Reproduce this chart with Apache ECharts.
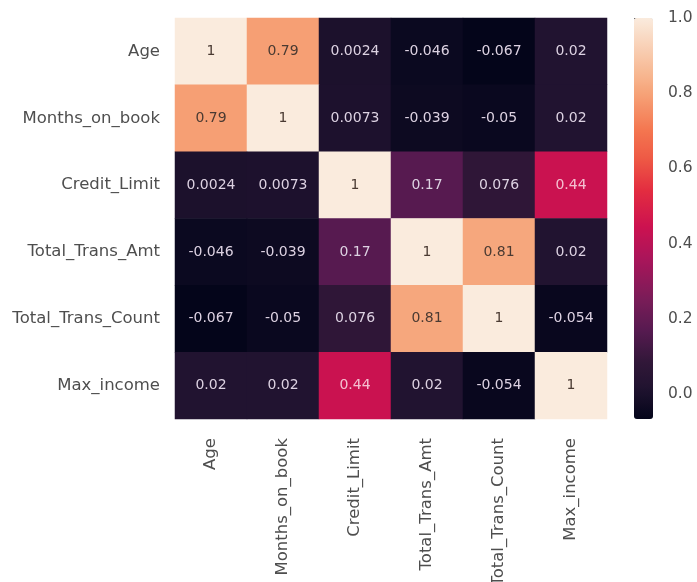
<!DOCTYPE html>
<html>
<head>
<meta charset="utf-8">
<script src="https://cdn.jsdelivr.net/npm/echarts@6/dist/echarts.min.js"></script>
<style>
  html, body { margin: 0; padding: 0; background: #ffffff; }
  #chart { width: 697px; height: 582px; }
</style>
</head>
<body>
<div id="chart"></div>
<script>
// Correlation matrix of the credit-card customer features
const features = ['Age', 'Months_on_book', 'Credit_Limit', 'Total_Trans_Amt', 'Total_Trans_Count', 'Max_income'];

const rowAge            = [1,      0.79,   0.0024, -0.046, -0.067, 0.02];
const rowMonthsOnBook   = [0.79,   1,      0.0073, -0.039, -0.05,  0.02];
const rowCreditLimit    = [0.0024, 0.0073, 1,      0.17,   0.076,  0.44];
const rowTotalTransAmt  = [-0.046, -0.039, 0.17,   1,      0.81,   0.02];
const rowTotalTransCnt  = [-0.067, -0.05,  0.076,  0.81,   1,      -0.054];
const rowMaxIncome      = [0.02,   0.02,   0.44,   0.02,   -0.054, 1];

const matrixRows = [rowAge, rowMonthsOnBook, rowCreditLimit, rowTotalTransAmt, rowTotalTransCnt, rowMaxIncome];

const colorbarTicks = [0, 0.2, 0.4, 0.6, 0.8, 1.0];
const colorMin = -0.067;
const colorMax = 1;

// "rocket"-style ramp: [position, colour] stops
const rampStops = [
  [0.00, '#04051a'],
  [0.08, '#211330'],
  [0.14, '#301738'],
  [0.22, '#561a50'],
  [0.30, '#7a1c58'],
  [0.40, '#aa155a'],
  [0.48, '#cc1250'],
  [0.57, '#e32d40'],
  [0.65, '#ee5a45'],
  [0.72, '#f47650'],
  [0.81, '#f6a277'],
  [0.86, '#f7b791'],
  [1.00, '#faebdd']
];

// Resample the stops into an evenly spaced list for the visual map
function hexToRgb(h) {
  return [1, 3, 5].map(i => parseInt(h.slice(i, i + 2), 16));
}
function sampleRamp(t) {
  for (let i = 1; i < rampStops.length; i++) {
    const [t1, c1] = rampStops[i];
    const [t0, c0] = rampStops[i - 1];
    if (t <= t1) {
      const f = (t - t0) / (t1 - t0);
      const a = hexToRgb(c0), b = hexToRgb(c1);
      const rgb = a.map((v, k) => Math.round(v + (b[k] - v) * f));
      return 'rgb(' + rgb.join(',') + ')';
    }
  }
  return rampStops[rampStops.length - 1][1];
}
const rampColors = [];
for (let i = 0; i <= 100; i++) rampColors.push(sampleRamp(i / 100));

const cells = [];
matrixRows.forEach((row, r) => {
  row.forEach((v, c) => {
    const t = (v - colorMin) / (colorMax - colorMin);
    cells.push({
      value: [c, r, v],
      label: { color: t > 0.6 ? '#4a3a32' : (t > 0.4 ? '#f4c0d0' : '#ddd2e2') }
    });
  });
});

const FONT = 'DejaVu Sans';
const TEXT = '#4e4e4e';

const chart = echarts.init(document.getElementById('chart'), null, { renderer: 'canvas' });

chart.setOption({
  backgroundColor: '#ffffff',
  animation: false,
  grid: [
    { left: 175, top: 18, width: 432, height: 401, outerBoundsMode: 'none', containLabel: false },
    { left: 634, top: 18, width: 19, height: 401, outerBoundsMode: 'none', containLabel: false }
  ],
  xAxis: [
    {
      type: 'category', gridIndex: 0, data: features, position: 'bottom',
      axisLine: { show: false }, axisTick: { show: false }, splitLine: { show: false },
      axisLabel: { rotate: 90, margin: 19, color: TEXT, fontFamily: FONT, fontSize: 16.5 }
    },
    { type: 'value', gridIndex: 1, show: false, min: 0, max: 1 }
  ],
  yAxis: [
    {
      type: 'category', gridIndex: 0, data: features, inverse: true,
      axisLine: { show: false }, axisTick: { show: false }, splitLine: { show: false },
      axisLabel: { margin: 15, color: TEXT, fontFamily: FONT, fontSize: 16.5 }
    },
    {
      type: 'value', gridIndex: 1, position: 'right', min: colorMin, max: colorMax,
      axisLine: { show: false }, splitLine: { show: false },
      axisTick: { show: true, length: 6, customValues: colorbarTicks, lineStyle: { color: '#555' } },
      axisLabel: {
        customValues: colorbarTicks, margin: 15, color: TEXT, fontFamily: FONT, fontSize: 15.5,
        formatter: v => v.toFixed(1)
      }
    }
  ],
  visualMap: {
    type: 'continuous',
    min: colorMin, max: colorMax,
    seriesIndex: 0,
    calculable: false,
    hoverLink: false,
    orient: 'vertical',
    left: 634, top: 18,
    padding: 0,
    itemWidth: 19, itemHeight: 401,
    text: null,
    showLabel: false,
    inRange: { color: rampColors }
  },
  series: [
    {
      type: 'heatmap',
      xAxisIndex: 0, yAxisIndex: 0,
      data: cells,
      label: {
        show: true,
        fontFamily: FONT,
        fontSize: 14,
        formatter: p => String(p.value[2])
      },
      itemStyle: { borderWidth: 0 },
      emphasis: { disabled: true }
    }
  ]
});
</script>
</body>
</html>
